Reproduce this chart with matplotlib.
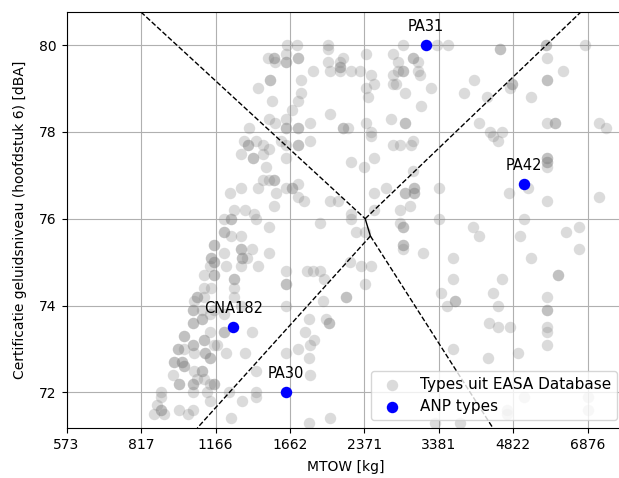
import matplotlib
matplotlib.use("Agg")
import matplotlib.pyplot as plt
from matplotlib.ticker import NullLocator, FixedLocator, FixedFormatter

# --- EASA database types: MTOW [kg] and certification level [dBA] ---
easa_mtow = [
    1642, 1721, 1634, 1995, 1995, 1497, 1541, 1541, 1550, 1634, 1634, 1726, 1726,
    1995, 2110, 2110, 2110, 2141, 2228, 2319, 2110, 2008, 1858,
    1511, 1511, 1756, 1430, 1756, 1528, 1726, 1678,
    1504, 1548, 1634, 1634, 1634, 1726, 1726, 1826, 1365, 2008, 2141, 2141, 2196,
    1338, 1414, 1360, 1360, 1460, 1504, 1318, 1396, 1396, 1460, 1591, 1634, 1726, 1726, 1826, 1634, 1481, 2228,
    1460, 1504, 1541, 1541, 1430, 1318, 1249, 1553, 1634, 1678, 1678, 1726, 1726, 1777, 1541, 2008, 2090, 2221,
    1276, 1341, 1400,
    1213, 1253, 1253, 1411, 1504, 1213, 1213, 1253, 1314, 1918, 2228, 2275, 2375,
    1160, 1160, 1213, 1314, 1314, 1320, 1320, 1356, 1385, 1504, 1141, 1141, 1160, 1160, 1138, 1160, 1160, 1103,
    1223, 1314, 1430, 1634, 1805, 1858, 1918, 1955, 2210, 2330,
    1273, 1273, 1634, 1634, 1103, 1141, 1273, 2375,
    1068, 1068, 1051, 1103, 1273, 1314, 2168, 2168, 1949,
    1048, 1048, 1094, 1160, 1213, 1634, 1048, 1048, 1094, 1094, 1138, 1213, 1213, 1385, 1977, 2002, 2002, 1820,
    1002, 1002, 1048, 1048, 1103, 1103, 1138, 1160, 973, 973, 1002, 1051, 1110, 1110, 1138, 1138, 1223, 1345,
    1175, 1783, 1864, 1828, 1726, 1634, 1820,
    956, 956, 994, 994, 1002, 1002, 1051, 1094, 1094, 1068, 951, 978, 978, 1048, 1048, 1138, 1160, 1160, 1103,
    1411, 1828,
    897, 1048, 1121, 1243, 1411, 897, 882, 900, 900, 869, 911, 978, 1023, 1048, 1138, 1324, 1253, 1411, 1820, 2008,
    2849, 3359, 3535, 4527, 4527, 5639, 5639, 6776, 5657,
    2390, 2715, 2781, 2849, 2849, 2988, 2988, 3060, 3060, 3085, 2781, 2715, 2448, 2487, 2715, 2759, 2390, 2409,
    2871, 3262, 3110, 4003, 3817, 4247, 4788, 4788, 4750, 5248, 5657, 5657, 6108,
    2694, 2871, 2871, 2390, 2448, 2448, 2988, 2964, 2715, 2804, 2487, 4094, 4315, 4385, 4491, 4578, 5657, 5888,
    5888, 7271, 7507, 2371,
    5666, 5666, 5666, 5666, 5666, 5181, 4727, 5657, 7271,
    2988, 2630, 2487, 2871, 2871, 3002, 3002, 3002, 3002, 3381, 2941, 2804, 2487, 3381, 5083,
    2804, 2849, 2849, 2849, 2849, 2849, 3985, 4094, 4986, 6206, 6584, 6584, 3135, 3621, 5248, 5963, 5963, 2448,
    3609, 4578, 3413, 4385, 3512, 3650, 3650, 4491, 5666, 5666, 5666, 5666, 5666, 5666, 4294, 4491, 4750, 3621,
    4267, 4939,
    5083, 6896, 6896, 4675, 4675, 3315, 3738,
]
easa_level = [
    80.0, 80.0, 79.8, 80.0, 79.9, 79.7, 79.7, 79.7, 79.6, 79.6, 79.6, 79.7, 79.7,
    79.6, 79.6, 79.5, 79.5, 79.7, 79.4, 79.4, 79.4, 79.4, 79.4,
    79.2, 79.2, 79.2, 79.0, 78.9, 78.7, 78.7, 78.5,
    78.3, 78.2, 78.3, 78.1, 78.1, 78.1, 78.1, 78.2, 78.1, 78.4, 78.1, 78.1, 78.1,
    77.8, 77.8, 77.7, 77.7, 77.7, 77.6, 77.5, 77.4, 77.4, 77.5, 77.8, 77.7, 77.7, 77.7, 77.8, 77.4, 77.2, 77.3,
    76.9, 76.9, 76.9, 76.9, 76.7, 76.7, 76.6, 76.6, 76.7, 76.7, 76.7, 76.8, 76.5, 76.4, 76.3, 76.4, 76.4, 76.1,
    76.2, 76.2, 76.1,
    76.0, 76.0, 76.0, 76.0, 75.8, 75.7, 75.7, 75.6, 75.6, 75.9, 76.0, 75.7, 75.7,
    75.4, 75.4, 75.2, 75.3, 75.3, 75.1, 75.1, 75.1, 75.3, 75.2, 75.1, 75.1, 75.0, 75.0, 74.9, 74.7, 74.7, 74.7,
    74.9, 74.9, 74.9, 74.8, 74.8, 74.8, 74.8, 74.6, 75.0, 74.9,
    74.6, 74.6, 74.5, 74.5, 74.4, 74.4, 74.4, 74.5,
    74.2, 74.2, 74.1, 74.2, 74.2, 74.0, 74.2, 74.2, 74.1,
    73.9, 73.9, 73.9, 73.9, 73.8, 74.0, 73.6, 73.6, 73.7, 73.7, 73.8, 73.4, 73.4, 73.4, 73.7, 73.6, 73.6, 73.7,
    73.3, 73.3, 73.1, 73.1, 73.2, 73.2, 73.4, 73.1, 73.0, 73.0, 73.0, 72.9, 72.9, 72.9, 72.8, 72.8, 72.9, 72.9,
    73.1, 73.4, 73.2, 73.1, 73.0, 72.9, 72.8,
    72.7, 72.7, 72.7, 72.7, 72.6, 72.6, 72.5, 72.5, 72.5, 72.3, 72.4, 72.2, 72.2, 72.2, 72.2, 72.2, 72.2, 72.2, 72.3,
    72.5, 72.4,
    72.0, 72.0, 72.0, 72.0, 72.0, 71.9, 71.7, 71.6, 71.6, 71.5, 71.5, 71.6, 71.5, 71.6, 71.8, 71.8, 71.4, 71.9, 71.3, 71.4,
    80.0, 80.0, 80.0, 79.9, 79.9, 80.0, 80.0, 80.0, 79.7,
    79.8, 79.8, 79.6, 79.4, 79.4, 79.7, 79.7, 79.6, 79.4, 79.3, 79.4, 79.3, 79.3, 79.1, 79.1, 79.1, 79.0, 78.8,
    78.9, 79.0, 78.6, 79.2, 78.9, 78.8, 79.1, 79.1, 79.0, 78.8, 79.2, 79.2, 79.4,
    78.3, 78.2, 78.2, 78.2, 78.0, 77.9, 77.8, 77.7, 77.7, 77.7, 77.4, 78.2, 78.0, 77.9, 77.8, 78.0, 78.2, 78.2,
    78.2, 78.2, 78.1, 77.2,
    77.4, 77.4, 77.3, 77.3, 77.2, 76.7, 76.6, 76.4, 76.5,
    77.1, 76.7, 76.6, 76.6, 76.6, 76.7, 76.7, 76.6, 76.6, 76.7, 76.3, 76.2, 76.2, 76.0, 76.0,
    75.9, 75.8, 75.8, 75.4, 75.4, 75.3, 75.8, 75.6, 75.6, 75.7, 75.8, 75.3, 75.2, 75.1, 75.1, 74.7, 74.7, 74.9,
    74.6, 74.6, 74.3, 74.3, 74.0, 74.1, 74.1, 74.0, 74.2, 73.9, 73.9, 73.5, 73.4, 73.1, 73.6, 73.5, 73.5, 73.0,
    72.8, 72.9,
    71.9, 71.9, 71.6, 71.6, 71.5, 71.3, 71.3,
]

# --- ANP types ---
anp_names = ["PA31", "PA42", "CNA182", "PA30"]
anp_mtow = [3175, 5083, 1270, 1633]
anp_level = [80.0, 76.8, 73.5, 72.0]

# --- boundary lines (MTOW, level) ---
upper_left = ([817, 2380], [80.76, 76.0])
upper_right = ([2380, 6655], [76.0, 80.76])
middle = ([2380, 2440], [76.0, 75.6])
lower_left = ([2440, 1069], [75.6, 71.18])
lower_right = ([2440, 4375], [75.6, 71.18])

xtick_values = [573, 817, 1166, 1662, 2371, 3381, 4822, 6876]
xtick_labels = ["573", "817", "1166", "1662", "2371", "3381", "4822", "6876"]

fig = plt.figure(figsize=(6.19, 4.78), dpi=100)
ax = fig.add_axes([66.5 / 619, 50 / 478, (625 - 66.5) / 619, 416 / 478])

ax.scatter(easa_mtow, easa_level, s=68, color="gray", alpha=0.28, linewidths=0,
           label="Types uit EASA Database", zorder=2)
ax.scatter(anp_mtow, anp_level, s=68, color="blue", linewidths=0, label="ANP types", zorder=3)
for name, x, y in zip(anp_names, anp_mtow, anp_level):
    ax.annotate(name, (x, y), xytext=(0, 8), textcoords="offset points",
                ha="center", va="bottom", fontsize=10.5)

for xs, ys in (upper_left, upper_right, lower_left, lower_right):
    ax.plot(xs, ys, "k--", lw=1.0, zorder=4)
ax.plot(middle[0], middle[1], "k-", lw=1.0, zorder=4)

ax.set_xscale("log")
ax.set_xlim(573, 8213)
ax.set_ylim(71.18, 80.76)
ax.xaxis.set_major_locator(FixedLocator(xtick_values))
ax.xaxis.set_major_formatter(FixedFormatter(xtick_labels))
ax.xaxis.set_minor_locator(NullLocator())
ax.set_yticks([72, 74, 76, 78, 80])
ax.grid(True, color="#b0b0b0", lw=0.8, zorder=0)
ax.set_axisbelow(True)

ax.set_xlabel("MTOW [kg]", labelpad=6)
ax.set_ylabel("Certificatie geluidsniveau (hoofdstuk 6) [dBA]", labelpad=9)
ax.legend(loc="lower right", fontsize=11)

fig.savefig("out.png", dpi=100)
